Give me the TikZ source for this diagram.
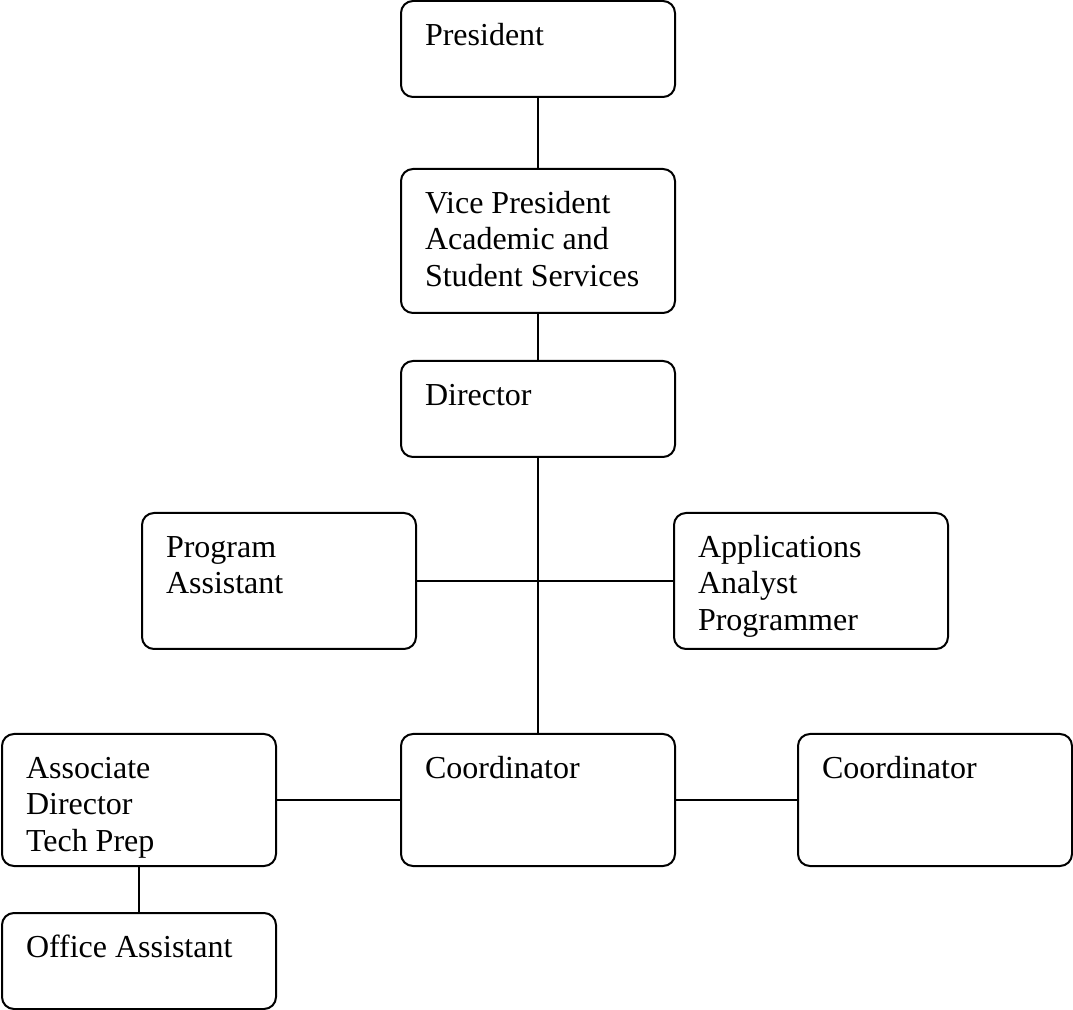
\documentclass[tikz,border=0pt]{standalone}
\usepackage{fontspec}
\setmainfont{Liberation Serif}
\usepackage{tikz}
\newcommand{\boxtxt}[2]{\parbox[t][\dimexpr#1-13.7pt\relax][t]{84.75pt}{\strut #2}}

\begin{document}
\begin{tikzpicture}[
    x=0.375pt, y=-0.375pt,
    post/.style={rectangle, draw=black, line width=0.75pt, rounded corners=4.5pt, inner xsep=9pt, inner ysep=6.85pt, outer sep=0pt, anchor=north west, font=\fontsize{12}{13.8}\selectfont},
    link/.style={draw=black, line width=0.75pt}
  ]
  \useasboundingbox (0,0) rectangle (1073,1010);

  % Main chain
  \node[post] (pres) at (401,1) {\boxtxt{36pt}{President}};
  \node[post] (vp) at (401,169) {\boxtxt{54pt}{Vice President\\Academic and\\Student Services}};
  \node[post] (dir) at (401,361) {\boxtxt{36pt}{Director}};

  % Staff
  \node[post] (pa) at (142,513) {\boxtxt{51pt}{Program\\Assistant}};
  \node[post] (aap) at (674,513) {\boxtxt{51pt}{Applications\\Analyst\\Programmer}};

  % Bottom row
  \node[post] (assoc) at (2,734) {\boxtxt{49.5pt}{Associate\\Director\\Tech Prep}};
  \node[post] (coord) at (401,734) {\boxtxt{49.5pt}{Coordinator}};
  \node[post] (coordb) at (798,734) {\boxtxt{49.5pt}{Coordinator}};
  \node[post] (office) at (2,913) {\boxtxt{36pt}{Office Assistant}};

  % Links
  \draw[link] (pres.south) -- (vp.north);
  \draw[link] (vp.south) -- (dir.north);
  \draw[link] (dir.south) -- (coord.north);
  \draw[link] (pa.east) -- (aap.west);
  \draw[link] (assoc.east) -- (coord.west);
  \draw[link] (coord.east) -- (coordb.west);
  \draw[link] (assoc.south) -- (office.north);
\end{tikzpicture}
\end{document}
